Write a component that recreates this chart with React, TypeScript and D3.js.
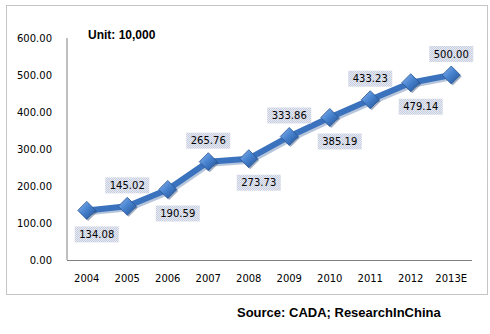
import React from "react";
import * as d3 from "d3";

const categories = ["2004", "2005", "2006", "2007", "2008", "2009", "2010", "2011", "2012", "2013E"];
const values = [134.08, 145.02, 190.59, 265.76, 273.73, 333.86, 385.19, 433.23, 479.14, 500.0];
const labelAbove = [false, true, false, true, false, true, false, true, false, true];
const yTicks = [0, 100, 200, 300, 400, 500, 600];
const unitText = "Unit: 10,000";
const sourceText = "Source: CADA; ResearchInChina";

export default function App() {
  const W = 490, H = 334;
  const left = 67, right = 472, top = 38, bottom = 260;
  const x = d3.scaleBand<string>().domain(categories).range([left, right]).paddingInner(0).paddingOuter(0);
  const y = d3.scaleLinear().domain([0, 600]).range([bottom, top]);
  const cx = (c: string) => (x(c) as number) + x.bandwidth() / 2 - 0.5;
  const line = d3.line<number>().x((_, i) => cx(categories[i])).y((v) => y(v));
  const font = "'DejaVu Sans', Verdana, sans-serif";
  const ds = 9;
  return (
    <svg width={W} height={H} style={{ position: "absolute", left: 0, top: 0, background: "#fff" }}>
      <defs>
        <linearGradient id="dg" x1="0" y1="0" x2="1" y2="1">
          <stop offset="0" stopColor="#8fb6ea" />
          <stop offset="0.45" stopColor="#4a85d1" />
          <stop offset="1" stopColor="#1f4f92" />
        </linearGradient>
        <pattern id="lp" width="2" height="2" patternUnits="userSpaceOnUse">
          <rect width="2" height="2" fill="#e6e9f1" />
          <rect width="1" height="1" fill="#c7cedf" />
          <rect x="1" y="1" width="1" height="1" fill="#c7cedf" />
        </pattern>
      </defs>
      <rect x={6.5} y={5.5} width={481} height={289} fill="#fff" stroke="#8a8a8a" strokeDasharray="1,1" />
      <line x1={left} x2={left} y1={top} y2={bottom} stroke="#808080" />
      <line x1={left} x2={right} y1={bottom + 0.5} y2={bottom + 0.5} stroke="#808080" />
      {yTicks.map((t) => (
        <text key={t} x={52} y={y(t)} dy="0.35em" textAnchor="end" fontFamily={font} fontSize={10} fill="#000">
          {t.toFixed(2)}
        </text>
      ))}
      {categories.map((c) => (
        <text key={c} x={cx(c)} y={278} dy="0.35em" textAnchor="middle" fontFamily={font} fontSize={10} fill="#000">
          {c}
        </text>
      ))}
      <path d={line(values) || ""} fill="none" stroke="#2e5a96" strokeWidth={7} strokeLinejoin="round" opacity={0.35} transform="translate(1.5,1.5)" />
      <path d={line(values) || ""} fill="none" stroke="#3b72bd" strokeWidth={6} strokeLinejoin="round" />
      {values.map((v, i) => {
        const px = cx(categories[i]);
        const py = y(v);
        return (
          <g key={i}>
            <path d={`M${px + 1.5},${py - ds + 1.5}L${px + ds + 1.5},${py + 1.5}L${px + 1.5},${py + ds + 1.5}L${px - ds + 1.5},${py + 1.5}Z`} fill="#1c3a66" opacity={0.4} />
            <path d={`M${px},${py - ds}L${px + ds},${py}L${px},${py + ds}L${px - ds},${py}Z`} fill="url(#dg)" stroke="#2a5796" strokeWidth={0.8} />
          </g>
        );
      })}
      {values.map((v, i) => {
        const px = cx(categories[i]);
        const py = y(v);
        const lx = labelAbove[i] ? px : px + 10;
        const ly = labelAbove[i] ? py - 21 : py + 24;
        return (
          <g key={"l" + i}>
            <rect x={lx - 22} y={ly - 8} width={44} height={16} fill="url(#lp)" />
            <text x={lx} y={ly} dy="0.35em" textAnchor="middle" fontFamily={font} fontSize={10} fill="#000">
              {v.toFixed(2)}
            </text>
          </g>
        );
      })}
      <text x={88} y={35} dy="0.35em" fontFamily="'Liberation Sans', Arial, sans-serif" fontWeight="bold" fontSize={12} fill="#000">
        {unitText}
      </text>
      <text x={237} y={312} dy="0.35em" fontFamily="'Liberation Sans', Arial, sans-serif" fontWeight="bold" fontSize={13} fill="#000">
        {sourceText}
      </text>
    </svg>
  );
}
